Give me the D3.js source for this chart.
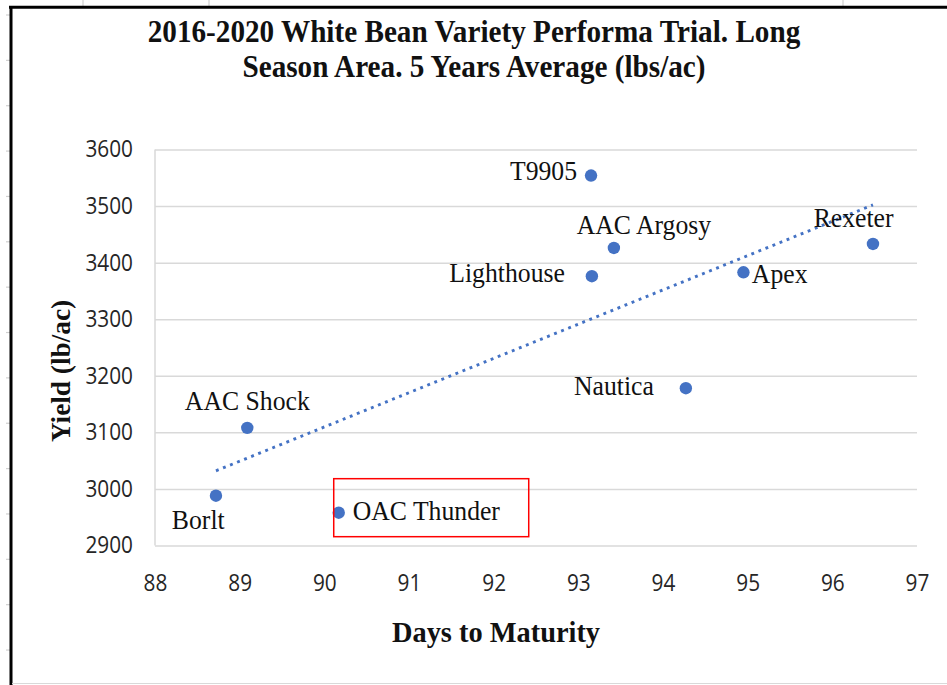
<!DOCTYPE html>
<html>
<head>
<meta charset="utf-8">
<script src="https://cdn.jsdelivr.net/npm/d3@7"></script>
<style>
  html, body { margin: 0; padding: 0; background: #fff; }
  svg { display: block; }
</style>
</head>
<body>
<div id="chart"></div>
<script>
// Data (5 year averages)
const varieties = ['Borlt', 'AAC Shock', 'OAC Thunder', 'T9905', 'AAC Argosy', 'Lighthouse', 'Apex', 'Nautica', 'Rexeter'];
const daysToMaturity = [88.72, 89.09, 90.17, 93.15, 93.42, 93.16, 94.95, 94.27, 96.48];
const yieldLbs = [2988, 3108, 2958, 3554, 3426, 3376, 3383, 3178, 3433];
const xTicks = [88, 89, 90, 91, 92, 93, 94, 95, 96, 97];
const yTicks = [2900, 3000, 3100, 3200, 3300, 3400, 3500, 3600];
const titleLines = ['2016-2020 White Bean Variety Performa Trial. Long', 'Season Area. 5 Years Average (lbs/ac)'];
const highlighted = 'OAC Thunder';

// where each data label sits relative to its point
const labelPlacement = {
  'Borlt': { dx: -17.7, dy: 33.3, anchor: 'middle' },
  'AAC Shock': { dx: 0, dy: -17.7, anchor: 'middle' },
  'OAC Thunder': { dx: 14, dy: 7.3, anchor: 'start' },
  'T9905': { dx: -14, dy: 4.3, anchor: 'end' },
  'AAC Argosy': { dx: 30, dy: -14.4, anchor: 'middle' },
  'Lighthouse': { dx: -27, dy: 5.7, anchor: 'end' },
  'Apex': { dx: 8.4, dy: 10.8, anchor: 'start' },
  'Nautica': { dx: -32, dy: 6.7, anchor: 'end' },
  'Rexeter': { dx: -19.4, dy: -17.3, anchor: 'middle' }
};

const points = varieties.map((name, i) => ({ name, x: daysToMaturity[i], y: yieldLbs[i] }));

const width = 947;
const height = 685;
const plot = { left: 155, right: 917, top: 149.5, bottom: 545.5 };
const blue = '#4472C4';
const serif = "'Liberation Serif', 'Times New Roman', serif";
const sans = "'Open Sans', 'Liberation Sans', sans-serif";

const svg = d3.select('#chart')
  .append('svg')
  .attr('width', width)
  .attr('height', height);

svg.append('rect').attr('width', width).attr('height', height).attr('fill', '#fff');

// spreadsheet cell lines peeking out around the chart object
const sheet = svg.append('g').attr('stroke', '#d0d0d0').attr('stroke-width', 1.2);
[83, 209, 843].forEach(cx => {
  sheet.append('line').attr('x1', cx).attr('x2', cx).attr('y1', 0).attr('y2', 6);
});
d3.range(15).forEach(k => {
  const ry = 15 + k * 45.36;
  sheet.append('line').attr('x1', 6).attr('x2', 10).attr('y1', ry).attr('y2', ry);
});

// chart area border
svg.append('line').attr('x1', 9).attr('x2', width).attr('y1', 7.2).attr('y2', 7.2)
  .attr('stroke', '#000').attr('stroke-width', 3);
svg.append('line').attr('x1', 11).attr('x2', 11).attr('y1', 6).attr('y2', height)
  .attr('stroke', '#000').attr('stroke-width', 3);
svg.append('line').attr('x1', 12).attr('x2', width).attr('y1', 683.5).attr('y2', 683.5)
  .attr('stroke', '#d9d9d9').attr('stroke-width', 1);

// scales
const x = d3.scaleLinear().domain([88, 97]).range([plot.left, plot.right]);
const y = d3.scaleLinear().domain([2900, 3600]).range([plot.bottom, plot.top]);

// horizontal gridlines
svg.append('g')
  .attr('transform', `translate(${plot.left},0)`)
  .call(d3.axisLeft(y).tickValues(yTicks).tickSize(-(plot.right - plot.left)).tickFormat(''))
  .call(g => g.select('.domain').remove())
  .call(g => g.selectAll('line').attr('stroke', '#d9d9d9').attr('stroke-width', 1.5));

// vertical axis line
svg.append('line')
  .attr('x1', plot.left).attr('x2', plot.left)
  .attr('y1', plot.top).attr('y2', plot.bottom)
  .attr('stroke', '#d9d9d9').attr('stroke-width', 1.5);

// y tick labels
svg.append('g')
  .attr('transform', `translate(${plot.left},0)`)
  .call(d3.axisLeft(y).tickValues(yTicks).tickSize(0).tickPadding(22).tickFormat(d3.format('d')))
  .call(g => g.select('.domain').remove())
  .call(g => g.selectAll('text')
    .attr('font-family', sans).attr('font-size', 20.8).attr('fill', '#262626')
    .attr('transform', 'scale(1,1.12)'));

// x tick labels
svg.append('g')
  .attr('transform', `translate(0,${plot.bottom})`)
  .call(d3.axisBottom(x).tickValues(xTicks).tickSize(0).tickFormat(d3.format('d')))
  .call(g => g.select('.domain').remove())
  .call(g => g.selectAll('text')
    .attr('font-family', sans).attr('font-size', 20.8).attr('fill', '#262626')
    .attr('y', 45.5 / 1.12).attr('dy', 0)
    .attr('transform', 'scale(1,1.12)'));

// linear trendline (least squares), drawn over the data range like Excel
const mx = d3.mean(points, d => d.x);
const my = d3.mean(points, d => d.y);
const slope = d3.sum(points, d => (d.x - mx) * (d.y - my)) / d3.sum(points, d => (d.x - mx) ** 2);
const intercept = my - slope * mx;
const [xmin, xmax] = d3.extent(points, d => d.x);
const trend = [xmin, xmax].map(v => ({ x: v, y: intercept + slope * v }));

svg.append('path')
  .datum(trend)
  .attr('d', d3.line().x(d => x(d.x)).y(d => y(d.y)))
  .attr('fill', 'none')
  .attr('stroke', blue)
  .attr('stroke-width', 2.9)
  .attr('stroke-dasharray', '2.9 4.7');

// points
svg.append('g')
  .selectAll('circle')
  .data(points)
  .join('circle')
  .attr('cx', d => x(d.x))
  .attr('cy', d => y(d.y))
  .attr('r', 6.2)
  .attr('fill', blue);

// data labels
svg.append('g')
  .selectAll('text')
  .data(points)
  .join('text')
  .attr('transform', d => {
    const p = labelPlacement[d.name];
    return `translate(${x(d.x) + p.dx},${y(d.y) + p.dy}) scale(1,1.1)`;
  })
  .attr('text-anchor', d => labelPlacement[d.name].anchor)
  .attr('font-family', serif)
  .attr('font-size', 25.7)
  .attr('fill', '#111')
  .text(d => d.name);

// red box around the highlighted variety
const hp = points.find(d => d.name === highlighted);
svg.append('rect')
  .attr('x', x(hp.x) - 5)
  .attr('y', y(hp.y) - 34)
  .attr('width', 195)
  .attr('height', 58)
  .attr('fill', 'none')
  .attr('stroke', '#ff0000')
  .attr('stroke-width', 1.5);

// chart title
svg.append('g')
  .selectAll('text')
  .data(titleLines)
  .join('text')
  .attr('transform', (d, i) => `translate(474,${41.7 + i * 35}) scale(1,1.05)`)
  .attr('text-anchor', 'middle')
  .attr('font-family', serif)
  .attr('font-weight', 'bold')
  .attr('font-size', 29.2)
  .attr('fill', '#111')
  .text(d => d);

// axis titles
svg.append('text')
  .attr('transform', 'translate(496,641.7) scale(1,1.06)')
  .attr('text-anchor', 'middle')
  .attr('font-family', serif)
  .attr('font-weight', 'bold')
  .attr('font-size', 28.4)
  .attr('fill', '#111')
  .text('Days to Maturity');

svg.append('text')
  .attr('transform', 'translate(70,371) rotate(-90) scale(1.03,1)')
  .attr('text-anchor', 'middle')
  .attr('font-family', serif)
  .attr('font-weight', 'bold')
  .attr('font-size', 26.5)
  .attr('fill', '#111')
  .text('Yield (lb/ac)');
</script>
</body>
</html>
